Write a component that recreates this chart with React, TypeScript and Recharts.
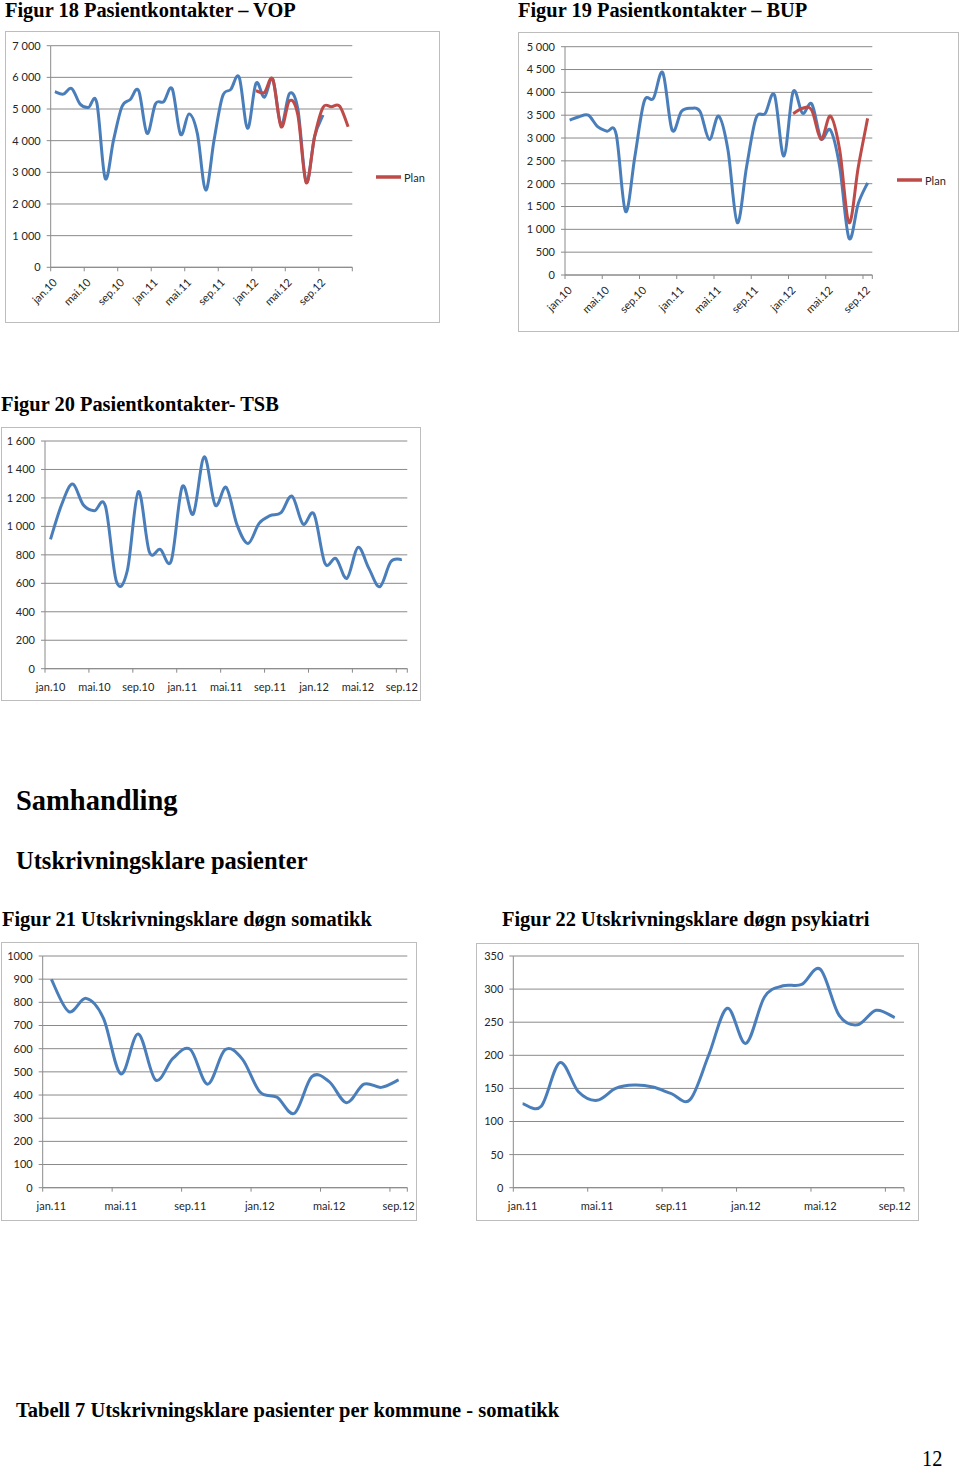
import React from 'react';
import { LineChart, Line, XAxis, YAxis, CartesianGrid, Legend } from 'recharts';

// ---------- categories ----------
const monthsJan10toDec12 = [
  'jan.10', 'feb.10', 'mar.10', 'apr.10', 'mai.10', 'jun.10', 'jul.10', 'aug.10', 'sep.10', 'okt.10', 'nov.10', 'des.10',
  'jan.11', 'feb.11', 'mar.11', 'apr.11', 'mai.11', 'jun.11', 'jul.11', 'aug.11', 'sep.11', 'okt.11', 'nov.11', 'des.11',
  'jan.12', 'feb.12', 'mar.12', 'apr.12', 'mai.12', 'jun.12', 'jul.12', 'aug.12', 'sep.12', 'okt.12', 'nov.12', 'des.12',
];
const monthsJan10toSep12 = [
  'jan.10', 'feb.10', 'mar.10', 'apr.10', 'mai.10', 'jun.10', 'jul.10', 'aug.10', 'sep.10', 'okt.10', 'nov.10', 'des.10',
  'jan.11', 'feb.11', 'mar.11', 'apr.11', 'mai.11', 'jun.11', 'jul.11', 'aug.11', 'sep.11', 'okt.11', 'nov.11', 'des.11',
  'jan.12', 'feb.12', 'mar.12', 'apr.12', 'mai.12', 'jun.12', 'jul.12', 'aug.12', 'sep.12',
];
const monthsJan11toSep12 = [
  'jan.11', 'feb.11', 'mar.11', 'apr.11', 'mai.11', 'jun.11', 'jul.11', 'aug.11', 'sep.11', 'okt.11', 'nov.11', 'des.11',
  'jan.12', 'feb.12', 'mar.12', 'apr.12', 'mai.12', 'jun.12', 'jul.12', 'aug.12', 'sep.12',
];

// ---------- series values ----------
// Figur 18 VOP (jan.10 - sep.12) and plan (jan.12 - des.12)
const vopActual = [
  5550, 5470, 5650, 5160, 5050, 5200, 2810, 4020, 5070, 5300, 5580, 4230,
  5160, 5230, 5640, 4200, 4840, 4230, 2440, 4020, 5390, 5620, 6000, 4390,
  5810, 5370, 5950, 4500, 5490, 5000, 2700, 4130, 4810,
];
const vopPlan = [5580, 5520, 5940, 4440, 5260, 4810, 2670, 4130, 5050, 5070, 5090, 4440];

// Figur 19 BUP (jan.10 - sep.12) and plan (jan.12 - sep.12)
const bupActual = [
  3390, 3467, 3500, 3250, 3150, 3080, 1390, 2590, 3800, 3870, 4430, 3175,
  3580, 3650, 3580, 2970, 3480, 2740, 1146, 2372, 3430, 3540, 3940, 2606,
  4015, 3540, 3745, 2990, 3175, 2370, 803, 1570, 2020,
];
const bupPlan = [3530, 3650, 3610, 2970, 3480, 2740, 1146, 2372, 3430];

// Figur 20 TSB (jan.10 - sep.12)
const tsbActual = [
  909, 1150, 1297, 1150, 1110, 1143, 615, 690, 1244, 822, 838, 759,
  1279, 1087, 1489, 1150, 1274, 1009, 880, 1021, 1075, 1096, 1213, 1016,
  1087, 740, 775, 635, 852, 705, 576, 752, 768,
];

// Figur 21 somatikk (jan.11 - sep.12)
const somatikk = [899, 760, 817, 731, 491, 663, 465, 558, 597, 447, 595, 555, 414, 390, 321, 479, 458, 367, 447, 433, 465];

// Figur 22 psykiatri (jan.11 - sep.12)
const psykiatri = [127, 123, 189, 145, 132, 150, 155, 152, 142, 133, 200, 271, 218, 288, 305, 307, 330, 261, 246, 268, 257];

// ---------- y tick labels ----------
const vopYTicks = [0, 1000, 2000, 3000, 4000, 5000, 6000, 7000];
const bupYTicks = [0, 500, 1000, 1500, 2000, 2500, 3000, 3500, 4000, 4500, 5000];
const tsbYTicks = [0, 200, 400, 600, 800, 1000, 1200, 1400, 1600];
const somYTicks = [0, 100, 200, 300, 400, 500, 600, 700, 800, 900, 1000];
const psyYTicks = [0, 50, 100, 150, 200, 250, 300, 350];

const BLUE = '#4A7EBB';
const RED = '#BE4B48';
const GRID = '#8a8a8a';
const TEXT = '#262626';

const spaced = (v: number) => String(v).replace(/\B(?=(\d{3})+(?!\d))/g, ' ');
const plain = (v: number) => String(v);

// Excel-like smoothed line (Catmull-Rom through points)
const smoothCurve = (context: any) => {
  let pts: number[][] = [];
  return {
    areaStart() {},
    areaEnd() {},
    lineStart() {
      pts = [];
    },
    point(x: number, y: number) {
      pts.push([+x, +y]);
    },
    lineEnd() {
      const n = pts.length;
      if (!n) return;
      context.moveTo(pts[0][0], pts[0][1]);
      for (let i = 0; i < n - 1; i++) {
        const p0 = pts[i - 1] || pts[i];
        const p1 = pts[i];
        const p2 = pts[i + 1];
        const p3 = pts[i + 2] || p2;
        context.bezierCurveTo(
          p1[0] + (p2[0] - p0[0]) / 6,
          p1[1] + (p2[1] - p0[1]) / 6,
          p2[0] - (p3[0] - p1[0]) / 6,
          p2[1] - (p3[1] - p1[1]) / 6,
          p2[0],
          p2[1],
        );
      }
    },
  };
};

type ChartProps = {
  left: number;
  top: number;
  width: number;
  height: number;
  plot: { left: number; top: number; right: number; bottom: number };
  months: string[];
  actual: number[];
  plan?: number[];
  planStartMonth?: string;
  yTicks: number[];
  yFormat: (v: number) => string;
  rotate: boolean;
  legendAt?: { x: number; y: number };
};

function MonthChart(props: ChartProps) {
  const { left, top, width, height, plot, months, actual, plan, planStartMonth, yTicks, yFormat, rotate, legendAt } = props;
  const planStart = planStartMonth ? months.indexOf(planStartMonth) : -1;
  const data = months.map((m, i) => ({
    x: i + 0.5,
    month: m,
    actual: i < actual.length ? actual[i] : null,
    plan: plan && planStart >= 0 && i >= planStart && i - planStart < plan.length ? plan[i - planStart] : null,
  }));
  const xTicks: number[] = [];
  for (let t = 0; t < months.length; t += 4) xTicks.push(t);
  xTicks.push(months.length);
  const half = (plot.right - plot.left) / months.length / 2;

  const renderXTick = (p: any) => {
    const v = p.payload.value;
    const label = months[v];
    if (v >= months.length || label === undefined) return <g />;
    const cx = p.x + half;
    if (rotate) {
      const ax = cx + 3;
      return (
        <text x={ax} y={p.y} transform={`rotate(-45 ${ax} ${p.y})`} textAnchor="end" fontSize={11} fill={TEXT}>
          {label}
        </text>
      );
    }
    return (
      <text x={cx} y={p.y} textAnchor="middle" dominantBaseline="central" fontSize={11} fill={TEXT}>
        {label}
      </text>
    );
  };

  return (
    <>
      <div
        style={{
          position: 'absolute',
          left,
          top,
          width,
          height,
          boxSizing: 'border-box',
          border: '1px solid #bdbdbd',
        }}
      />
      <div style={{ position: 'absolute', left, top, width, height }}>
        <LineChart
          width={width}
          height={height}
          data={data}
          margin={{ top: plot.top, right: width - plot.right, bottom: 0, left: 0 }}
          style={{ fontFamily: 'Lato, "Open Sans", sans-serif' }}
        >
          <CartesianGrid horizontal vertical={false} stroke={GRID} strokeWidth={1} />
          <XAxis
            type="number"
            dataKey="x"
            domain={[0, months.length]}
            ticks={xTicks}
            interval={0}
            allowDecimals
            height={height - plot.bottom}
            tickSize={4}
            tickMargin={rotate ? 12 : 13.5}
            axisLine={{ stroke: GRID }}
            tickLine={{ stroke: GRID }}
            tick={renderXTick}
          />
          <YAxis
            type="number"
            domain={[0, yTicks[yTicks.length - 1]]}
            ticks={yTicks}
            interval={0}
            width={plot.left}
            tickSize={4}
            tickMargin={6}
            axisLine={{ stroke: GRID }}
            tickLine={{ stroke: GRID }}
            tick={{ fontSize: 11, fill: TEXT }}
            tickFormatter={yFormat}
          />
          <Line
            dataKey="actual"
            name="Faktisk"
            legendType="none"
            type={smoothCurve as any}
            stroke={BLUE}
            strokeWidth={3}
            dot={false}
            activeDot={false}
            isAnimationActive={false}
          />
          {plan && (
            <Line
              dataKey="plan"
              name="Plan"
              type={smoothCurve as any}
              stroke={RED}
              strokeWidth={3}
              dot={false}
              activeDot={false}
              isAnimationActive={false}
            />
          )}
          {plan && legendAt && (
            <Legend
              layout="horizontal"
              verticalAlign="middle"
              align="center"
              wrapperStyle={{ left: legendAt.x, top: legendAt.y - 8, width: 60, height: 16, right: 'auto', bottom: 'auto' }}
              content={(lp: any) => (
                <div style={{ display: 'flex', alignItems: 'center', height: 16 }}>
                  {(lp.payload || [])
                    .filter((e: any) => e.type !== 'none' && e.dataKey === 'plan')
                    .map((e: any) => (
                      <React.Fragment key={e.value}>
                        <svg width={25} height={4} style={{ display: 'block' }}>
                          <line x1={0} y1={2} x2={25} y2={2} stroke={e.color} strokeWidth={3.5} />
                        </svg>
                        <span style={{ marginLeft: 3, fontSize: 11, color: TEXT, fontFamily: 'Lato, sans-serif' }}>{e.value}</span>
                      </React.Fragment>
                    ))}
                </div>
              )}
            />
          )}
        </LineChart>
      </div>
    </>
  );
}

function Heading({ text, left, baseline, size, bold = true, scaleX = 1 }: { text: string; left: number; baseline: number; size: number; bold?: boolean; scaleX?: number }) {
  return (
    <div
      style={{
        position: 'absolute',
        left,
        top: baseline - 0.8375 * size,
        fontSize: size,
        lineHeight: `${size}px`,
        fontWeight: bold ? 700 : 400,
        fontFamily: '"Liberation Serif", "Times New Roman", serif',
        whiteSpace: 'nowrap',
        color: '#000',
        transform: scaleX !== 1 ? `scaleX(${scaleX})` : undefined,
        transformOrigin: 'left top',
      }}
    >
      {text}
    </div>
  );
}

export default function App() {
  return (
    <div style={{ position: 'absolute', left: 0, top: 0, width: 960, height: 1471, background: '#fff', overflow: 'hidden' }}>
      <Heading text="Figur 18 Pasientkontakter – VOP" left={5} baseline={17.1} size={20.4} />
      <Heading text="Figur 19 Pasientkontakter – BUP" left={518} baseline={17.1} size={20.4} />
      <MonthChart
        left={5}
        top={31}
        width={435}
        height={292}
        plot={{ left: 45.7, top: 14.7, right: 347.3, bottom: 236.3 }}
        months={monthsJan10toDec12}
        actual={vopActual}
        plan={vopPlan}
        planStartMonth="jan.12"
        yTicks={vopYTicks}
        yFormat={spaced}
        rotate
        legendAt={{ x: 371, y: 146 }}
      />
      <MonthChart
        left={518}
        top={32}
        width={441}
        height={300}
        plot={{ left: 47, top: 14.7, right: 354.3, bottom: 243 }}
        months={monthsJan10toSep12}
        actual={bupActual}
        plan={bupPlan}
        planStartMonth="jan.12"
        yTicks={bupYTicks}
        yFormat={spaced}
        rotate
        legendAt={{ x: 379, y: 148.3 }}
      />
      <Heading text="Figur 20 Pasientkontakter- TSB" left={1} baseline={410.7} size={20.4} />
      <MonthChart
        left={1}
        top={427}
        width={420}
        height={274}
        plot={{ left: 44, top: 14, right: 406.3, bottom: 241.7 }}
        months={monthsJan10toSep12}
        actual={tsbActual}
        yTicks={tsbYTicks}
        yFormat={spaced}
        rotate={false}
      />
      <Heading text="Samhandling" left={16} baseline={810.7} size={28.5} />
      <Heading text="Utskrivningsklare pasienter" left={16} baseline={870} size={24.5} />
      <Heading text="Figur 21 Utskrivningsklare døgn somatikk" left={2} baseline={926.5} size={20.4} />
      <Heading text="Figur 22 Utskrivningsklare døgn psykiatri" left={502} baseline={926.5} size={20.4} />
      <MonthChart
        left={1}
        top={942}
        width={416}
        height={279}
        plot={{ left: 41.7, top: 14, right: 406.3, bottom: 245.7 }}
        months={monthsJan11toSep12}
        actual={somatikk}
        yTicks={somYTicks}
        yFormat={plain}
        rotate={false}
      />
      <MonthChart
        left={476}
        top={943}
        width={443}
        height={278}
        plot={{ left: 37.3, top: 13, right: 428, bottom: 244.7 }}
        months={monthsJan11toSep12}
        actual={psykiatri}
        yTicks={psyYTicks}
        yFormat={plain}
        rotate={false}
      />
      <Heading text="Tabell 7 Utskrivningsklare pasienter per kommune - somatikk" left={16} baseline={1417} size={20.5} />
      <Heading text="12" left={922} baseline={1466.5} size={24} bold={false} scaleX={0.85} />
    </div>
  );
}
